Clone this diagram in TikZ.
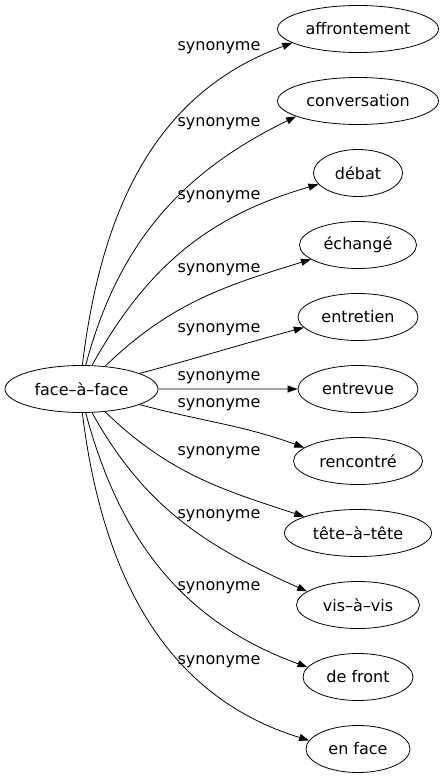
\documentclass[tikz,border=0pt]{standalone}
\usepackage{fontspec}
\setmainfont{DejaVu Sans}
\usetikzlibrary{shapes.geometric}
\usetikzlibrary{arrows.meta}
\usetikzlibrary{positioning}

\tikzset{
  word/.style={ellipse, draw, line width=0.8pt, inner sep=0pt, minimum height=47pt},
  syn/.style={-{Triangle[length=10pt,width=7pt]}, line width=0.8pt},
  lbl/.style={inner sep=0pt},
}

\begin{document}
\begin{tikzpicture}[x=1pt, y=1pt, node distance=24.2pt, font=\fontsize{16}{19}\selectfont]
    \useasboundingbox (0,0) rectangle (445,-779);

    \node[word, minimum width=153pt] (face) at (81.5,-389) {face–à–face};
    \node[word, minimum width=161pt] (affrontement) at (358,-29) {affrontement};
    \node[word, minimum width=161pt, below=of affrontement] (conversation) {conversation};
    \node[word, minimum width=89pt, below=of conversation] (debat) {débat};
    \node[word, minimum width=117pt, below=of debat] (echange) {échangé};
    \node[word, minimum width=120pt, below=of echange] (entretien) {entretien};
    \node[word, minimum width=120pt, below=of entretien] (entrevue) {entrevue};
    \node[word, minimum width=129pt, below=of entrevue] (rencontre) {rencontré};
    \node[word, minimum width=147pt, below=of rencontre] (tete) {tête–à–tête};
    \node[word, minimum width=123pt, below=of tete] (visavis) {vis–à–vis};
    \node[word, minimum width=110pt, below=of visavis] (defront) {de front};
    \node[word, minimum width=104pt, below=of defront] (enface) {en face};

    % Connect the nodes
    \draw[syn] (face.88) to[out=83, in=200] (affrontement.192); %
    \draw[syn] (face.80) to[out=75, in=206] (conversation.194); %
    \draw[syn] (face.66) to[out=61, in=196] (debat.196); %
    \draw[syn] (face.44) to[out=44, in=197] (echange.197); %
    \draw[syn] (face.15) to[out=15, in=195] (entretien.191); %
    \draw[syn] (face) -- (entrevue); %
    \draw[syn] (face.-15) to[out=-15, in=160] (rencontre.166); %
    \draw[syn] (face.-44) to[out=-44, in=162] (tete.163); %
    \draw[syn] (face.-66) to[out=-61, in=156] (visavis.165); %
    \draw[syn] (face.-80) to[out=-75, in=160] (defront.169); %
    \draw[syn] (face.-88) to[out=-83, in=163] (enface.170); %

    % Edge labels
    \node[lbl] (s1) at (219,-48) {synonyme};
    \node[lbl] (s2) at (219,-124) {synonyme};
    \node[lbl] (s3) at (219,-197) {synonyme};
    \node[lbl] (s4) at (219,-270) {synonyme};
    \node[lbl] (s5) at (219,-330) {synonyme};
    \node[lbl] (s6) at (219,-378) {synonyme};
    \node[lbl] (s7) at (219,-405) {synonyme};
    \node[lbl] (s8) at (219,-453) {synonyme};
    \node[lbl] (s9) at (219,-516) {synonyme};
    \node[lbl] (s10) at (219,-588) {synonyme};
    \node[lbl] (s11) at (219,-662) {synonyme};
\end{tikzpicture}
\end{document}
